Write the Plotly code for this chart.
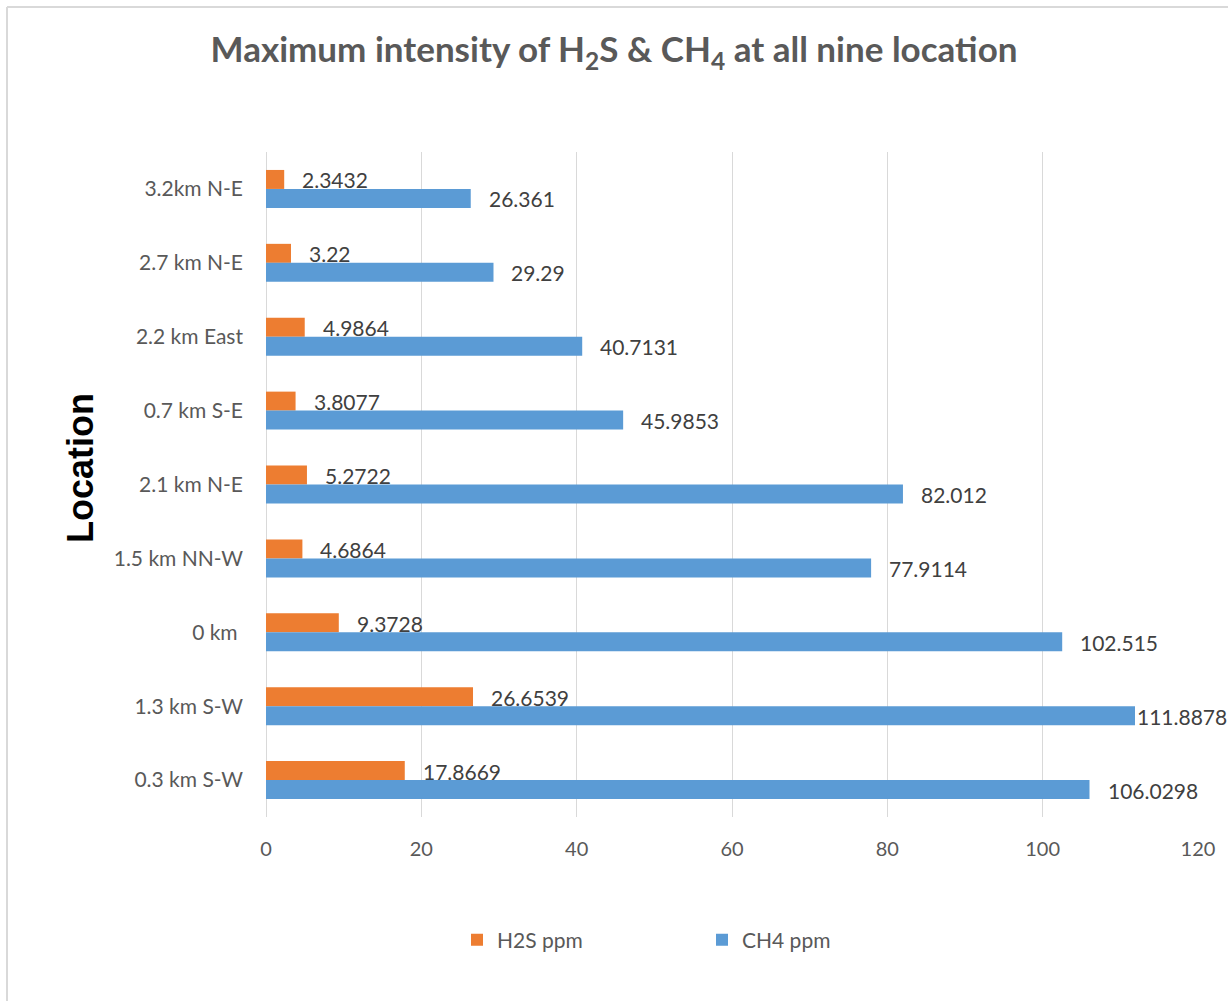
import plotly.graph_objects as go

# ---- data ----
locations = ["3.2km N-E", "2.7 km N-E", "2.2 km East", "0.7 km S-E", "2.1 km N-E",
             "1.5 km NN-W", "0 km ", "1.3 km S-W", "0.3 km S-W"]
h2s_ppm = [2.3432, 3.22, 4.9864, 3.8077, 5.2722, 4.6864, 9.3728, 26.6539, 17.8669]
ch4_ppm = [26.361, 29.29, 40.7131, 45.9853, 82.012, 77.9114, 102.515, 111.8878, 106.0298]
x_ticks = [0, 20, 40, 60, 80, 100, 120]

# ---- layout geometry (pixels) ----
W, H = 1228, 1001
L, R, T, B = 266, 1198, 152, 817


def px_x(p):
    return (p - L) / (R - L)


def px_y(p):
    return (B - p) / (B - T)


ORANGE = "#ED7D31"
BLUE = "#5B9BD5"
GRID = "#D9D9D9"
TXT = "#595959"
LBL = "#404040"
FONT = "Lato, 'Open Sans', sans-serif"

fig = go.Figure()
fig.add_trace(go.Bar(y=locations, x=h2s_ppm, orientation="h", name="H2S ppm",
                     marker=dict(color=ORANGE, line=dict(width=0))))
fig.add_trace(go.Bar(y=locations, x=ch4_ppm, orientation="h", name="CH4 ppm",
                     marker=dict(color=BLUE, line=dict(width=0))))

annotations = []
for loc, v in zip(locations, h2s_ppm):
    annotations.append(dict(x=v, y=loc, xref="x", yref="y", text=str(v), showarrow=False,
                            xanchor="left", yanchor="middle", xshift=16, yshift=9,
                            font=dict(family=FONT, size=21, color=LBL)))
for loc, v in zip(locations, ch4_ppm):
    annotations.append(dict(x=v, y=loc, xref="x", yref="y", text=str(v), showarrow=False,
                            xanchor="left", yanchor="middle",
                            xshift=16 if v < 110 else 0, yshift=-10,
                            font=dict(family=FONT, size=21, color=LBL)))

annotations.append(dict(x=px_x(80), y=px_y(468), xref="paper", yref="paper",
                        text="<b>Location</b>", textangle=-90, showarrow=False,
                        xanchor="center", yanchor="middle",
                        font=dict(family="Liberation Sans, Arial, sans-serif", size=36, color="black")))

shapes = [
    dict(type="line", xref="paper", yref="paper", x0=px_x(7), x1=px_x(W), y0=px_y(7), y1=px_y(7),
         line=dict(color=GRID, width=2)),
    dict(type="line", xref="paper", yref="paper", x0=px_x(7), x1=px_x(7), y0=px_y(7), y1=px_y(H),
         line=dict(color=GRID, width=2)),
]

fig.update_layout(
    width=W, height=H,
    margin=dict(l=L, r=W - R, t=T, b=H - B, autoexpand=False),
    paper_bgcolor="white", plot_bgcolor="white",
    barmode="group", bargap=0.486, bargroupgap=0,
    title=dict(text="<b>Maximum intensity of H<sub>2</sub>S &amp; CH<sub>4</sub> at all nine location</b>",
               x=0.5, xref="container", xanchor="center",
               y=1 - 50 / H, yref="container", yanchor="middle",
               font=dict(family=FONT, size=35, color=TXT)),
    xaxis=dict(range=[0, 120], tickvals=x_ticks, showgrid=True, gridcolor=GRID, gridwidth=1,
               zeroline=True, zerolinecolor=GRID, zerolinewidth=1, showline=False,
               ticks="", ticklabelstandoff=18,
               tickfont=dict(family=FONT, size=20, color=TXT), fixedrange=True),
    yaxis=dict(type="category", categoryorder="array", categoryarray=locations,
               autorange="reversed", showgrid=False, zeroline=False, showline=False,
               ticks="", ticklabelstandoff=22,
               tickfont=dict(family=FONT, size=21, color=TXT)),
    legend=dict(orientation="h", x=px_x(457), y=px_y(940), xanchor="left", yanchor="middle",
                entrywidth=200, font=dict(family=FONT, size=21, color=TXT),
                bgcolor="rgba(0,0,0,0)"),
    annotations=annotations,
    shapes=shapes,
    showlegend=True,
)

fig.write_html("out.html", config={"displayModeBar": False},
               post_script="document.body.style.margin='0';")
